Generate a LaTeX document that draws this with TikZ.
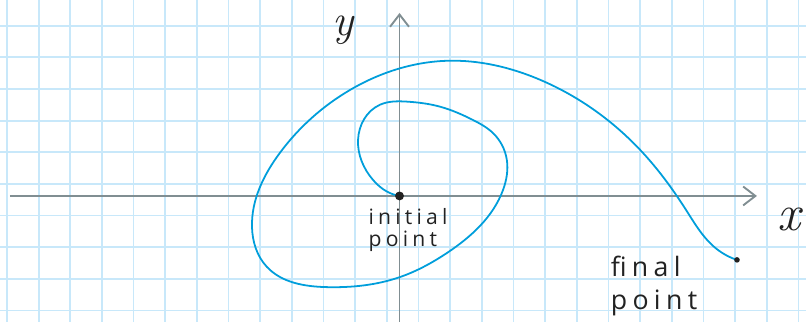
\documentclass[tikz,border=0pt]{standalone}
\usepackage{fontspec}
\newfontfamily\handfont[LetterSpace=20]{Open Sans}
\usetikzlibrary{arrows.meta,hobby}
\definecolor{gridblue}{RGB}{200,232,250}
\definecolor{axisgray}{RGB}{128,142,146}
\definecolor{curveblue}{RGB}{0,158,219}
\definecolor{inkdark}{RGB}{34,34,34}

\begin{document}
\begin{tikzpicture}[>={Straight Barb[length=11pt,width=17pt]},
    gridline/.style={gridblue, line width=1.6pt},
    axis/.style={axisgray, line width=1.7pt, ->},
    trajectory/.style={curveblue, line width=1.6pt, use Hobby shortcut},
    dot/.style={circle, fill=inkdark, inner sep=0pt, minimum size=#1},
    handlabel/.style={inkdark, align=left, font=\handfont#1}]
  \useasboundingbox (-12.62,-3.98) rectangle (12.84,6.19);
  %% squared paper
  \foreach \gx in {-12,...,13}
    \draw[gridline] (\gx-0.4,-3.98) -- (\gx-0.4,6.19);
  \foreach \gy in {-4,...,5}
    \draw[gridline] (-12.62,\gy+0.38) -- (12.84,\gy+0.38);
  %% axes
  \coordinate (xstart) at (-12.31,0);
  \coordinate (xend) at (11.29,0);
  \coordinate (ystart) at (0,-3.98);
  \coordinate (yend) at (0,5.78);
  \draw[axis] (xstart) -- (xend);
  \draw[axis] (ystart) -- (yend);
  \node[inkdark, font=\fontsize{46}{46}\selectfont\itshape] (xlabel) at (12.3,-0.75) {x};
  \node[inkdark, font=\fontsize{40}{40}\selectfont\itshape] (ylabel) at (-1.78,5.24) {y};
  %% the path
  \draw[trajectory] (0,0) .. (-0.40,0.14) .. (-0.84,0.51) .. (-1.31,1.77)
    .. (-0.62,2.88) .. (0.23,2.98) .. (1.28,2.82) .. (2.32,2.40)
    .. (2.95,1.99) .. (3.39,1.14) .. (3.27,0.19)
    .. (1.50,-1.80) .. (0.02,-2.56) .. (-2.29,-2.88)
    .. (-4.19,-2.24) .. (-4.66,-0.98) .. (-3.78,1.36) .. (-1.56,3.35)
    .. (1.50,4.27) .. (4.44,3.67) .. (7.69,1.36) .. (9.05,-0.44)
    .. (10.0,-1.66) .. (10.66,-2.02);
  \node[dot=8pt] (initial) at (0,0) {};
  \node[dot=5pt] (final) at (10.66,-2.02) {};
  %% labels
  \node[handlabel=\fontsize{19}{20}\selectfont] (initiallabel) at (0.27,-1.07) {initial\\point};
  \node[handlabel=\fontsize{24}{30}\selectfont] (finallabel) at (8.04,-2.84) {final\\point};
\end{tikzpicture}
\end{document}
